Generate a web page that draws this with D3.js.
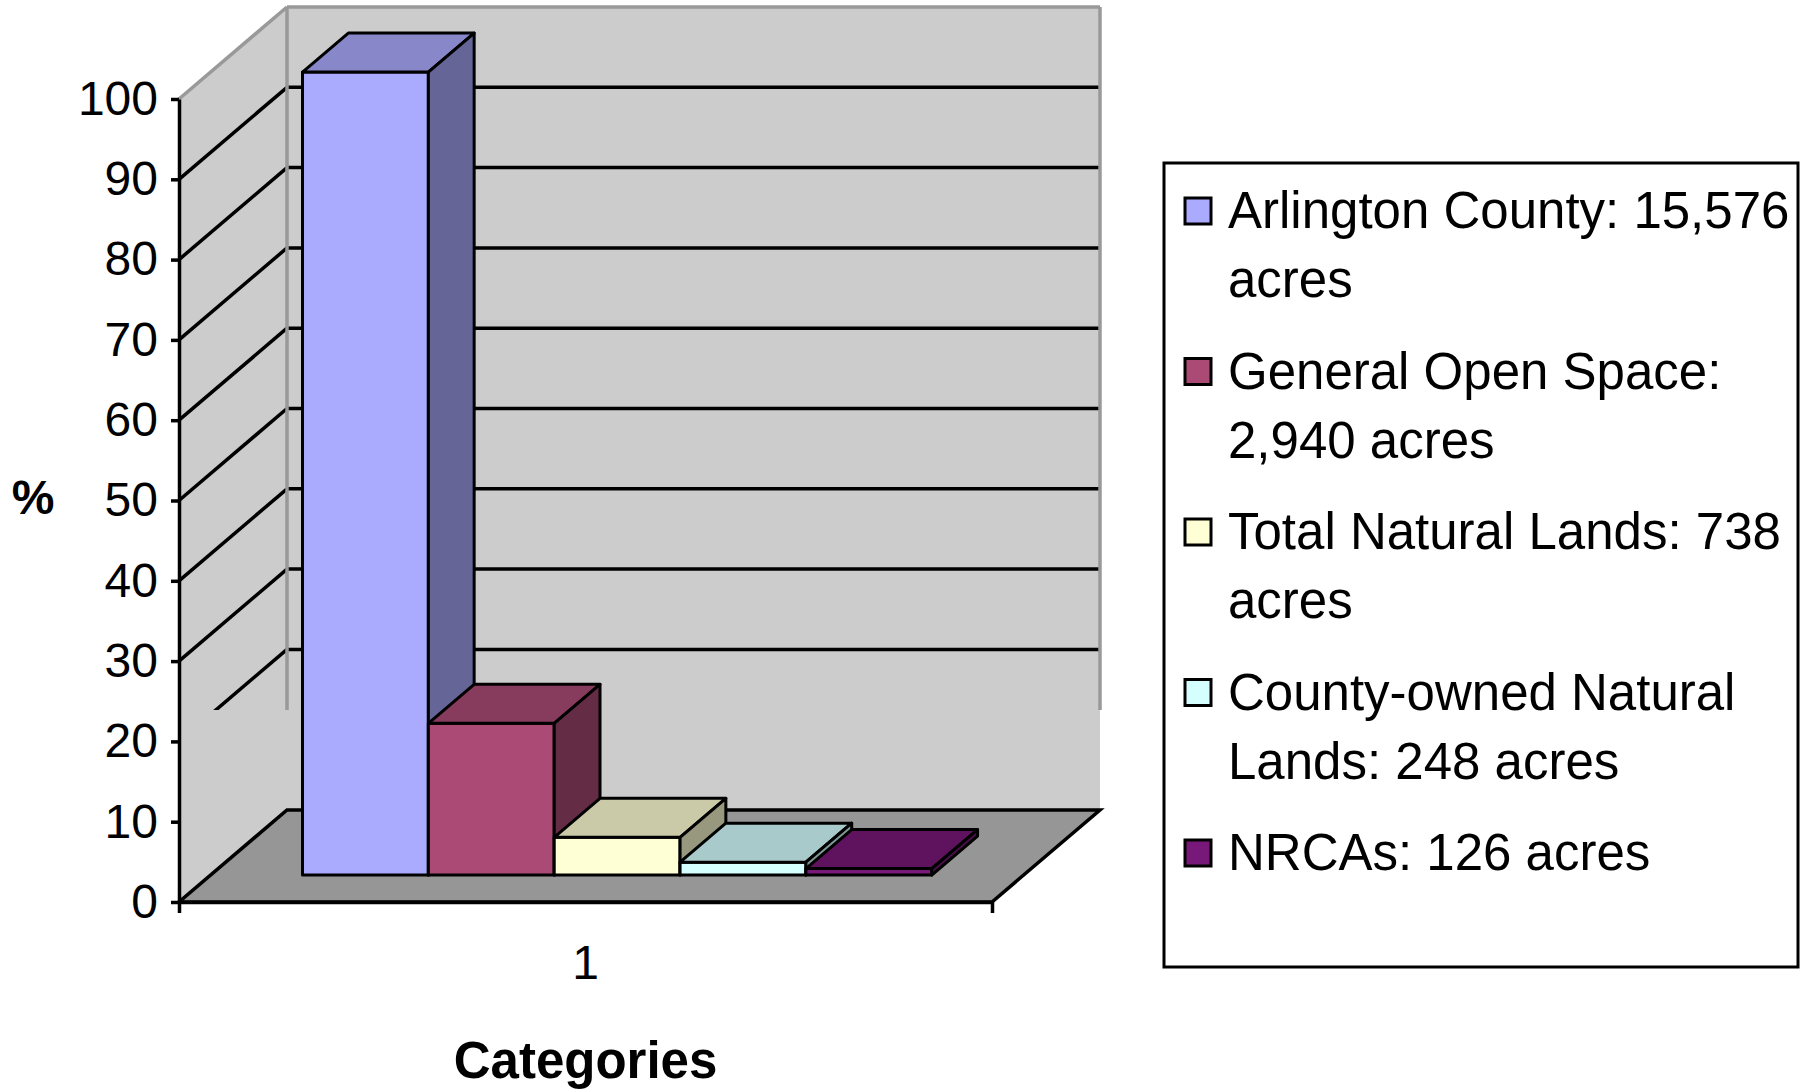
<!DOCTYPE html>
<html>
<head>
<meta charset="utf-8">
<script src="https://cdn.jsdelivr.net/npm/d3@7"></script>
<style>
  body { margin: 0; background: #fff; }
  #chart { width: 1806px; height: 1091px; }
</style>
</head>
<body>
<div id="chart"></div>
<script>
// data (% of Arlington County area)
const categories = ["1"];
const seriesLabels = [
    "Arlington County: 15,576 acres",
    "General Open Space: 2,940 acres",
    "Total Natural Lands: 738 acres",
    "County-owned Natural Lands: 248 acres",
    "NRCAs: 126 acres"
];
const seriesValues = [100, 18.9, 4.7, 1.6, 0.8];
const seriesColors = ["#AAAAFF", "#AA4A75", "#FFFFD5", "#D5FFFF", "#781878"];
const yTickValues = [0, 10, 20, 30, 40, 50, 60, 70, 80, 90, 100];

function drawChart() {
    d3.select("#chart").html("");

    const font = "'Liberation Sans', Arial, sans-serif";
    const svg = d3.select("#chart").append("svg")
        .attr("width", 1806)
        .attr("height", 1091);

    // front plane + oblique depth
    const left = 179, right = 992;
    const DX = 108, DY = 92;
    const z0 = 0.293, z1 = 0.717;   // bar depth range
    const clipY = 710;              // walls lose their lines below this

    const y = d3.scaleLinear().domain([0, 100]).range([902, 99]);
    const x0 = d3.scaleBand().domain(categories).range([left, right]).paddingOuter(0.146).paddingInner(0);
    const x1 = d3.scaleBand().domain(seriesLabels).range([0, x0.bandwidth()]);

    const P = (x, v, z) => [x + z * DX, y(v) - z * DY];
    const poly = pts => "M" + pts.map(p => p.join(",")).join("L") + "Z";

    svg.append("defs").append("clipPath").attr("id", "wallClip")
       .append("rect").attr("x", 0).attr("y", 0).attr("width", 1200).attr("height", clipY);

    // walls and floor
    svg.append("path")
       .attr("d", poly([P(left, 0, 0), P(left, 100, 0), P(left, 100, 1), P(left, 0, 1)]))
       .attr("fill", "#CCCCCC");
    svg.append("path")
       .attr("d", poly([P(left, 0, 1), P(left, 100, 1), P(right, 100, 1), P(right, 0, 1)]))
       .attr("fill", "#CCCCCC");

    const walls = svg.append("g").attr("clip-path", "url(#wallClip)");
    const inner = yTickValues.filter(v => v > 0 && v < 100);

    // back wall gridlines
    walls.selectAll(".grid-back")
       .data(inner)
       .enter().append("line")
       .attr("x1", d => P(left, d, 1)[0]).attr("y1", d => P(left, d, 1)[1])
       .attr("x2", d => P(right, d, 1)[0]).attr("y2", d => P(right, d, 1)[1])
       .attr("stroke", "#000").attr("stroke-width", 3.5);

    // side wall gridlines
    walls.selectAll(".grid-side")
       .data(inner)
       .enter().append("line")
       .attr("x1", d => P(left, d, 0)[0]).attr("y1", d => P(left, d, 0)[1])
       .attr("x2", d => P(left, d, 1)[0]).attr("y2", d => P(left, d, 1)[1])
       .attr("stroke", "#000").attr("stroke-width", 3.5);

    // grey wall edges
    const edges = [
        [P(left, 100, 0), P(left, 100, 1)],
        [P(left, 100, 1), P(right, 100, 1)],
        [P(left, 100, 1), P(left, 0, 1)],
        [P(right, 100, 1), P(right, 0, 1)]
    ];
    walls.selectAll(".edge")
       .data(edges)
       .enter().append("line")
       .attr("x1", d => d[0][0]).attr("y1", d => d[0][1])
       .attr("x2", d => d[1][0]).attr("y2", d => d[1][1])
       .attr("stroke", "#999999").attr("stroke-width", 3.5);

    // floor
    svg.append("path")
       .attr("d", poly([P(left, 0, 0), P(right, 0, 0), P(right, 0, 1), P(left, 0, 1)]))
       .attr("fill", "#969696")
       .attr("stroke", "#000").attr("stroke-width", 3.5)
       .attr("stroke-linejoin", "miter");

    // axes
    const yAxis = svg.append("g")
       .attr("transform", `translate(${left},0)`)
       .call(d3.axisLeft(y).tickValues(yTickValues).tickSizeInner(8).tickSizeOuter(0).tickPadding(13));
    yAxis.selectAll("path, line").attr("stroke", "#000").attr("stroke-width", 3.5);
    yAxis.selectAll("text").style("font-family", font).style("font-size", "48px").attr("fill", "#000");

    const xAxis = svg.append("g")
       .attr("transform", `translate(0,${y(0)})`)
       .call(d3.axisBottom(x0).tickSizeInner(0).tickSizeOuter(11).tickPadding(43));
    xAxis.selectAll("path").attr("stroke", "#000").attr("stroke-width", 3.5);
    xAxis.selectAll("text").style("font-family", font).style("font-size", "48px").attr("fill", "#000");

    // 3D bars
    const bars = svg.selectAll(".bar")
       .data(seriesLabels.map((s, i) => ({ key: s, value: seriesValues[i], color: seriesColors[i] })))
       .enter().append("g").attr("class", "bar");

    const bx = d => x0(categories[0]) + x1(d.key);
    const bw = x1.bandwidth();

    bars.append("path")
       .attr("d", d => poly([P(bx(d), 0, z0), P(bx(d), d.value, z0), P(bx(d) + bw, d.value, z0), P(bx(d) + bw, 0, z0)]))
       .attr("fill", d => d.color);
    bars.append("path")
       .attr("d", d => poly([P(bx(d), d.value, z0), P(bx(d), d.value, z1), P(bx(d) + bw, d.value, z1), P(bx(d) + bw, d.value, z0)]))
       .attr("fill", d => d3.rgb(d.color).darker(0.65));
    bars.append("path")
       .attr("d", d => poly([P(bx(d) + bw, 0, z0), P(bx(d) + bw, d.value, z0), P(bx(d) + bw, d.value, z1), P(bx(d) + bw, 0, z1)]))
       .attr("fill", d => d3.rgb(d.color).darker(1.45));
    bars.selectAll("path")
       .attr("stroke", "#000").attr("stroke-width", 3).attr("stroke-linejoin", "round");

    // axis titles
    svg.append("text")
       .attr("x", 33).attr("y", 514)
       .attr("text-anchor", "middle")
       .style("font-family", font).style("font-size", "48px").style("font-weight", "bold")
       .text("%");
    svg.append("text")
       .attr("x", (left + right) / 2).attr("y", 1078)
       .attr("text-anchor", "middle")
       .style("font-family", font).style("font-size", "51px").style("font-weight", "bold")
       .text("Categories");

    // legend
    const legend = svg.append("g");
    legend.append("rect")
       .attr("x", 1164).attr("y", 163).attr("width", 634).attr("height", 804)
       .attr("fill", "#fff").attr("stroke", "#000").attr("stroke-width", 3);

    const maxW = 575;
    seriesLabels.forEach((label, i) => {
        const cy = 211 + i * 160.5;
        legend.append("rect")
           .attr("x", 1185).attr("y", cy - 13).attr("width", 26).attr("height", 26)
           .attr("fill", seriesColors[i]).attr("stroke", "#000").attr("stroke-width", 3);

        const t = legend.append("text")
           .attr("x", 1228).attr("y", cy + 17)
           .style("font-family", font).style("font-size", "51px").attr("fill", "#000");
        // simple word wrap
        const words = label.split(" ");
        let line = [], lineNo = 0;
        let span = t.append("tspan").attr("x", 1228).attr("dy", 0);
        words.forEach(w => {
            line.push(w);
            span.text(line.join(" "));
            if (span.node().getComputedTextLength() > maxW && line.length > 1) {
                line.pop();
                span.text(line.join(" "));
                line = [w];
                lineNo++;
                span = t.append("tspan").attr("x", 1228).attr("dy", 69).text(w);
            }
        });
    });
}

drawChart();
</script>
</body>
</html>
